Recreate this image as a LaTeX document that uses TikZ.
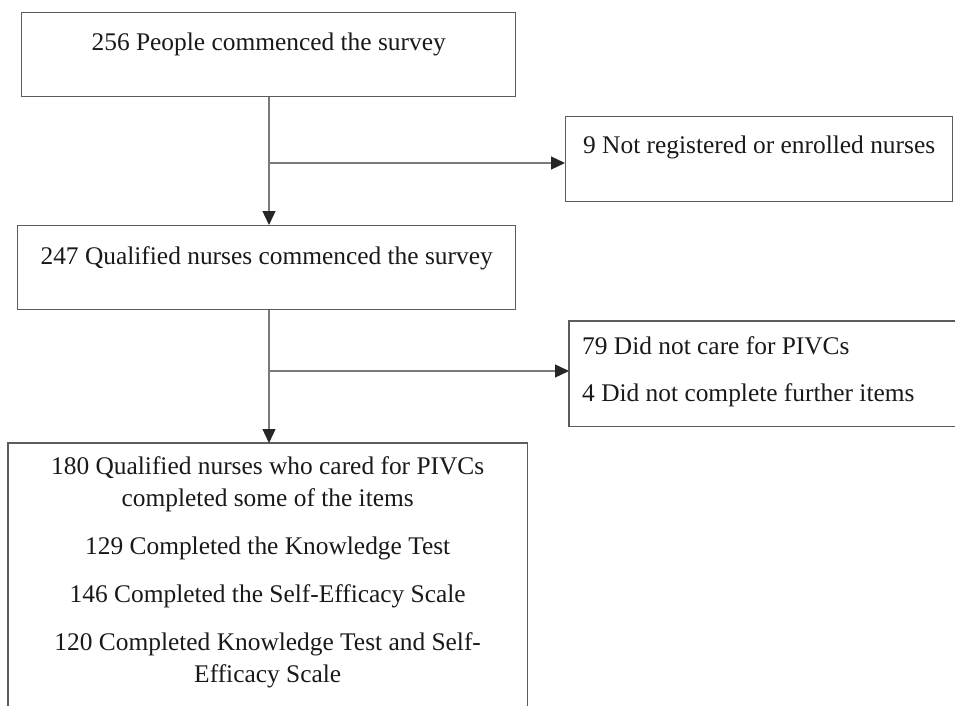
\documentclass[tikz,border=0pt]{standalone}
\usepackage{fontspec}
\setmainfont{Liberation Serif}
\usetikzlibrary{arrows.meta, positioning}
\definecolor{boxgray}{HTML}{5C5C5C}
\definecolor{linegray}{HTML}{7A7A7A}

\begin{document}
\begin{tikzpicture}[
    x=1pt, y=-1pt,
    % Box styles
    flowbox/.style={
        draw=boxgray, line width=1.3pt, inner sep=0pt, anchor=north west,
      },
    openbox/.style={
        draw=none, inner sep=0pt, anchor=north west,
      },
    boxtext/.style={
        inner sep=0pt, text=black!90, font=\fontsize{25.4}{32}\selectfont,
      },
    % Connector style
    flow/.style={
        draw=linegray, line width=1.3pt,
        -{Triangle[length=14pt, width=13pt, color=black!85]},
      },
  ]
  \useasboundingbox (0,0) rectangle (955,706);

  % --- Boxes on the main line ---
  \node[flowbox, minimum width=494pt, minimum height=84pt] (start) at (21,12) {};
  \node[boxtext, below=21pt of start.north] (starttext) {256 People commenced the survey};

  \node[flowbox, minimum width=498pt, minimum height=84pt] (qualified) at (17,225) {};
  \node[boxtext, below=21pt of qualified.north] (qualifiedtext) {247 Qualified nurses commenced the survey};

  \node[openbox, minimum width=519pt, minimum height=263pt] (cared) at (8,443) {};
  \draw[boxgray, line width=1.3pt] (cared.south west) -- (cared.north west)
    -- (cared.north east) -- (cared.south east);
  \node[boxtext, align=center, below=13pt of cared.north] (caredtext)
    {180 Qualified nurses who cared for PIVCs\\
     completed some of the items\\[16pt]
     129 Completed the Knowledge Test\\[16pt]
     146 Completed the Self-Efficacy Scale\\[16pt]
     120 Completed Knowledge Test and Self-\\
     Efficacy Scale};

  % --- Exclusion boxes ---
  \node[flowbox, minimum width=387pt, minimum height=85pt] (notnurse) at (565,116) {};
  \node[boxtext, below=20pt of notnurse.north] (notnursetext) {9 Not registered or enrolled nurses};

  \node[openbox, minimum width=386pt, minimum height=105pt] (nopivc) at (569,321) {};
  \draw[boxgray, line width=1.3pt] (nopivc.north east) -- (nopivc.north west)
    -- (nopivc.south west) -- (nopivc.south east);
  \node[boxtext, align=left, below right=15pt and 13pt of nopivc.north west] (nopivctext)
    {79 Did not care for PIVCs\\[15pt]
     4 Did not complete further items};

  % --- Connectors ---
  \coordinate (split1) at (269,163);
  \coordinate (split2) at (269,371);
  \draw[flow] (start.south -| split1) -- (split1 |- qualified.north);
  \draw[flow] (split1) -- (split1 -| notnurse.west);
  \draw[flow] (qualified.south -| split2) -- (split2 |- cared.north);
  \draw[flow] (split2) -- (split2 -| nopivc.west);

\end{tikzpicture}
\end{document}
